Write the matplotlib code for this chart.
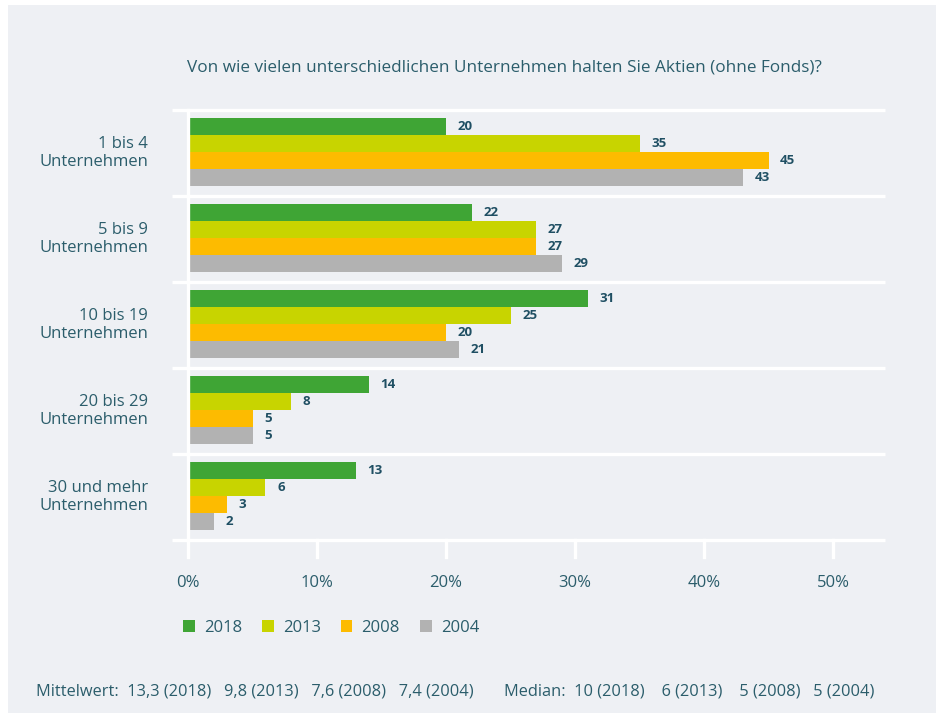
import matplotlib.pyplot as plt
from matplotlib.patches import Rectangle
import numpy as np

plt.rcParams['font.family'] = ['Open Sans', 'DejaVu Sans']

categories = ["1 bis 4\nUnternehmen", "5 bis 9\nUnternehmen", "10 bis 19\nUnternehmen",
              "20 bis 29\nUnternehmen", "30 und mehr\nUnternehmen"]
years = ["2018", "2013", "2008", "2004"]
v2018 = [20, 22, 31, 14, 13]
v2013 = [35, 27, 25, 8, 6]
v2008 = [45, 27, 20, 5, 3]
v2004 = [43, 29, 21, 5, 2]
xticks = [0, 10, 20, 30, 40, 50]
title = "Von wie vielen unterschiedlichen Unternehmen halten Sie Aktien (ohne Fonds)?"
footer_mean = "Mittelwert:  13,3 (2018)   9,8 (2013)   7,6 (2008)   7,4 (2004)"
footer_median = "Median:  10 (2018)    6 (2013)    5 (2008)   5 (2004)"

colors = ["#3fa535", "#c8d400", "#fdbb00", "#b2b2b2"]
bg = "#eef0f4"
txt = "#2b5d6b"
lbl = "#1f4f63"

W, H = 936, 721
fig = plt.figure(figsize=(W / 100, H / 100), dpi=100, facecolor="white")
fig.patches.append(Rectangle((8 / W, 8 / H), 1, (H - 13) / H, transform=fig.transFigure,
                             facecolor=bg, edgecolor="none", zorder=-10))

# axes spans the white separator lines: x 172..885 px, y 110..540 px
ax = fig.add_axes([172 / W, 1 - 540 / H, (885 - 172) / W, 430 / H])
ax.set_facecolor("none")
px = 12.9  # pixels per percent
ax.set_xlim(-16 / px, 697 / px)
ax.set_ylim(5, 0)
for s in ax.spines.values():
    s.set_visible(False)
ax.set_xticks([])
ax.set_yticks([])

h = 0.198
series = [v2018, v2013, v2008, v2004]
for k, vals in enumerate(series):
    ys = np.arange(len(categories)) + 0.49 + (k - 1.5) * h
    ax.barh(ys, vals, height=h, color=colors[k], label=years[k], zorder=2)
    for y, v in zip(ys, vals):
        ax.text(v + 0.9, y, str(v), va="center", ha="left", fontsize=9.5,
                fontweight="bold", color=lbl)

# white separators between groups
for i in range(len(categories) + 1):
    ax.plot([-16 / px, 697 / px], [i, i], color="white", lw=2.4, solid_capstyle="butt",
            clip_on=False, zorder=1)
# zero line and tick stubs
ax.plot([0, 0], [0, 5.2], color="white", lw=2.4, clip_on=False, zorder=3)
for t in xticks[1:]:
    ax.plot([t, t], [5, 5.2], color="white", lw=2.4, clip_on=False, zorder=1)
for t in xticks:
    ax.text(t, 5.5, f"{t}%", ha="center", va="center", fontsize=12, color=txt)

for i, c in enumerate(categories):
    ax.text(-40 / px, i + 0.5, c, ha="right", va="center", fontsize=12, color=txt,
            linespacing=1.1)

fig.text(187 / W, 1 - 67 / H, title, ha="left", va="center", fontsize=12.3, color=txt)

leg = fig.legend(loc="center left", bbox_to_anchor=(168 / W, 1 - 628 / H), ncol=4,
                 frameon=False, fontsize=12, handlelength=0.7, handleheight=0.7,
                 handletextpad=0.55, columnspacing=1.2)
for t in leg.get_texts():
    t.set_color(txt)

fig.text(36 / W, 1 - 692 / H, footer_mean, ha="left", va="center", fontsize=11.8, color=txt)
fig.text(504 / W, 1 - 692 / H, footer_median, ha="left", va="center", fontsize=11.8, color=txt)

fig.savefig("out.png", dpi=100, facecolor="white")
